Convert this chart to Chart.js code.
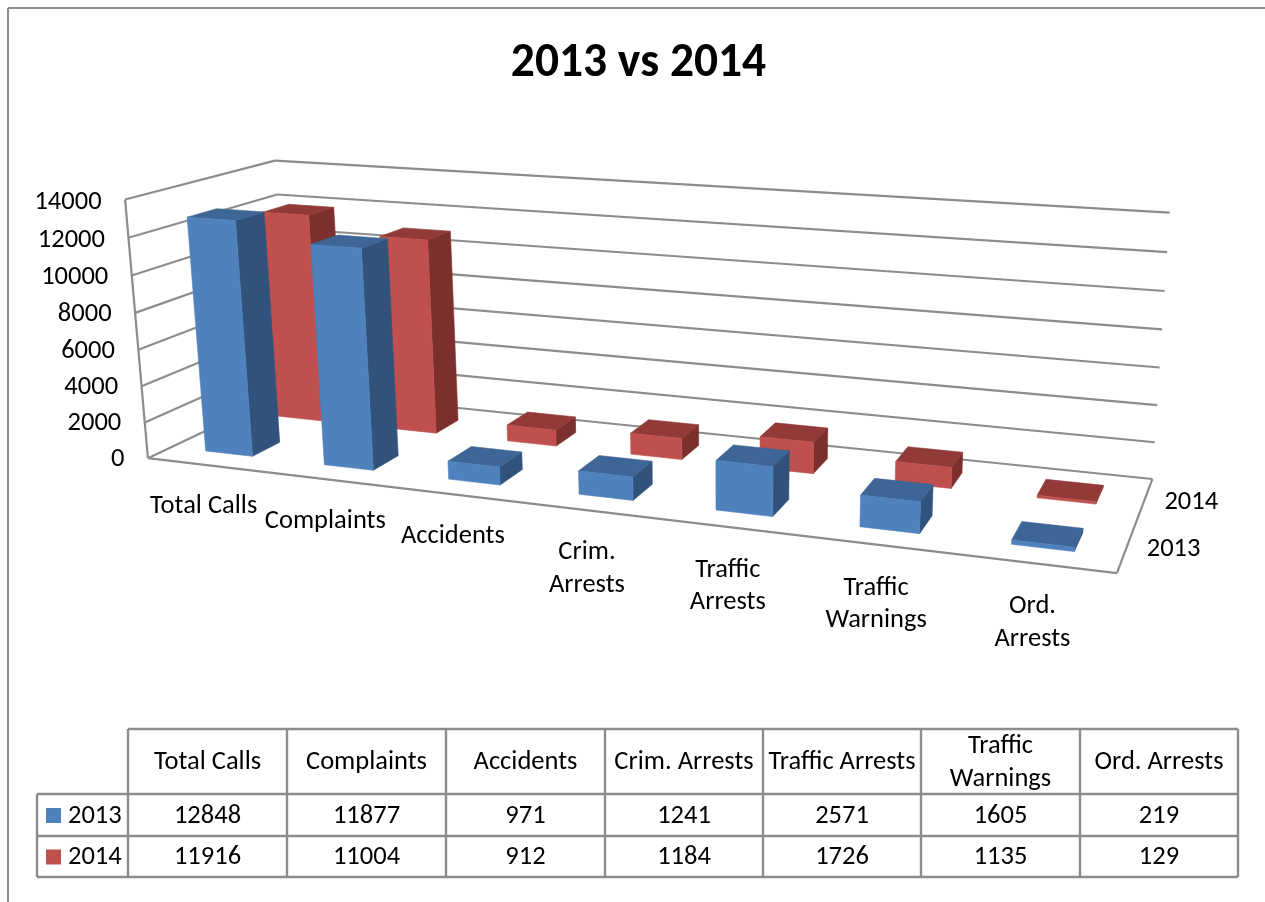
<!DOCTYPE html>
<html>
<head>
<meta charset="utf-8">
<style>html,body{margin:0;padding:0;background:#fff}canvas{display:block}</style>
<script src="https://cdn.jsdelivr.net/npm/chart.js@4/dist/chart.umd.js"></script>
</head>
<body>
<canvas id="c" width="1265" height="902"></canvas>
<script>
// ---- data ----
const titleText = '2013 vs 2014';
const categoryLabels = [['Total Calls'],['Complaints'],['Accidents'],['Crim.','Arrests'],['Traffic','Arrests'],['Traffic','Warnings'],['Ord.','Arrests']];
const tableHeaders = [['Total Calls'],['Complaints'],['Accidents'],['Crim. Arrests'],['Traffic Arrests'],['Traffic','Warnings'],['Ord. Arrests']];
const values2013 = [12848,11877,971,1241,2571,1605,219];
const values2014 = [11916,11004,912,1184,1726,1135,129];
const seriesNames = ['2013','2014'];
const faceColors = {
  '2013': {front:'#4F81BD', top:'#3D6595', side:'#31527B'},
  '2014': {front:'#C0504D', top:'#913A38', side:'#7B302E'}
};
const FONT = 'Carlito, Lato, sans-serif';
const FS = 26.5;
const LINE = '#8C8C8C';

// ---- projection of the unit box (u along categories, v along values, w into depth) ----
const anchors = [
  [0,0,0,146,457],[1,0,0,1117,574],[1,0,1,1152,478],[0,0,1,292,392],
  [0,1,0,127,200],[0,1,1,273,160],[1,1,1,1170,213]
];
function solveProjection(pts){
  const rows=[],rhs=[];
  for(const [u,v,w,x,y] of pts){
    rows.push([u,v,w,1,0,0,0,0,-x*u,-x*v,-x*w]);rhs.push(x);
    rows.push([0,0,0,0,u,v,w,1,-y*u,-y*v,-y*w]);rhs.push(y);
  }
  const n=11,M=[];
  for(let i=0;i<n;i++){
    const r=new Array(n+1).fill(0);
    for(let j=0;j<n;j++)for(let k=0;k<rows.length;k++)r[j]+=rows[k][i]*rows[k][j];
    for(let k=0;k<rows.length;k++)r[n]+=rows[k][i]*rhs[k];
    M.push(r);
  }
  for(let i=0;i<n;i++){
    let p=i;for(let r=i+1;r<n;r++)if(Math.abs(M[r][i])>Math.abs(M[p][i]))p=r;
    [M[i],M[p]]=[M[p],M[i]];
    for(let r=0;r<n;r++){if(r===i)continue;const f=M[r][i]/M[i][i];for(let c=i;c<=n;c++)M[r][c]-=f*M[i][c];}
  }
  return M.map((r,i)=>r[n]/r[i]);
}
const H = solveProjection(anchors);
function P(u,v,w){
  const d=H[8]*u+H[9]*v+H[10]*w+1;
  return [(H[0]*u+H[1]*v+H[2]*w+H[3])/d,(H[4]*u+H[5]*v+H[6]*w+H[7])/d];
}
function poly(ctx,pts,color){
  ctx.beginPath();ctx.moveTo(pts[0][0],pts[0][1]);
  for(let i=1;i<pts.length;i++)ctx.lineTo(pts[i][0],pts[i][1]);
  ctx.closePath();ctx.fillStyle=color;ctx.strokeStyle=color;ctx.lineWidth=0.6;ctx.fill();ctx.stroke();
}
function seg(ctx,a,b){ctx.beginPath();ctx.moveTo(a[0],a[1]);ctx.lineTo(b[0],b[1]);ctx.stroke();}

// ---- a bar element that draws itself as a box in the projected space ----
const depthGap = 0.15, depthSize = 0.19, barShift = -0.0005;
class Box3DElement extends Chart.BarElement {
  draw(ctx){
    const {x,y,base,width}=this.getProps(['x','y','base','width'],true);
    const a=this.$area;if(!a)return;
    const u0=(x-width/2-a.left)/a.width+barShift,u1=(x+width/2-a.left)/a.width+barShift;
    const v0=(a.bottom-base)/a.height,v1=(a.bottom-y)/a.height;
    const w0=this.$slot*0.5+depthGap,w1=w0+depthSize;
    const c=faceColors[this.$name];
    poly(ctx,[P(u1,v0,w0),P(u1,v0,w1),P(u1,v1,w1),P(u1,v1,w0)],c.side);
    poly(ctx,[P(u0,v1,w0),P(u1,v1,w0),P(u1,v1,w1),P(u0,v1,w1)],c.top);
    poly(ctx,[P(u0,v0,w0),P(u1,v0,w0),P(u1,v1,w0),P(u0,v1,w0)],c.front);
  }
}
Box3DElement.id='box3d';
class Bar3DController extends Chart.BarController {
  draw(){
    const meta=this.getMeta();
    meta.data.forEach(el=>{el.$slot=this.index;el.$name=this.getDataset().label;el.$area=this.chart.chartArea;});
    super.draw();
  }
}
Bar3DController.id='bar3d';
Bar3DController.defaults=Object.assign({},Chart.BarController.defaults,{dataElementType:'box3d'});
Chart.register(Box3DElement,Bar3DController);

// ---- place the library's tick labels along the projected edges ----
function placeXLabels(scale){
  const proto=Object.getPrototypeOf(scale);
  scale._computeLabelArea=function(){return undefined;};
  scale._computeLabelItems=function(ca){
    const items=proto._computeLabelItems.call(this,ca),a=this.chart.chartArea;
    items.forEach((it,i)=>{
      const u=(this.getPixelForTick(i)-a.left)/a.width,p=P(u,0,0);
      it.textOffset=0;
      it.options.textAlign='center';it.options.textBaseline='middle';
      it.options.translation=[p[0]-3,p[1]+41+2.5*u];
    });
    return items;
  };
}
function placeYLabels(scale){
  const proto=Object.getPrototypeOf(scale);
  scale._computeLabelArea=function(){return undefined;};
  scale._computeLabelItems=function(ca){
    const items=proto._computeLabelItems.call(this,ca),a=this.chart.chartArea;
    items.forEach((it,i)=>{
      const v=(a.bottom-this.getPixelForTick(i))/a.height,p=P(0,v,0);
      it.textOffset=0;
      it.options.textAlign='right';it.options.textBaseline='middle';
      it.options.translation=[p[0]-23.5,p[1]+1+1.5*v];
    });
    return items;
  };
}

// ---- walls and floor, from the value scale's ticks ----
const wallsPlugin={
  id:'walls',
  beforeDatasetsDraw(chart){
    const ctx=chart.ctx,y=chart.scales.y,a=chart.chartArea;
    ctx.save();ctx.strokeStyle=LINE;ctx.lineWidth=2.2;
    y.ticks.forEach(t=>{
      const v=(a.bottom-y.getPixelForValue(t.value))/a.height;
      seg(ctx,P(0,v,0),P(0,v,1));
      seg(ctx,P(0,v,1),P(1,v,1));
    });
    seg(ctx,P(0,0,0),P(0,1,0));
    seg(ctx,P(0,0,0),P(1,0,0));
    seg(ctx,P(1,0,0),P(1,0,1));
    ctx.restore();
  },
  afterDraw(chart){
    const ctx=chart.ctx;
    ctx.save();
    // chart frame
    ctx.strokeStyle=LINE;ctx.lineWidth=2;
    seg(ctx,[8,902],[8,8]);seg(ctx,[8,8],[1265,8]);
    // depth axis labels
    ctx.fillStyle='#000';ctx.font=FS+'px '+FONT;ctx.textAlign='center';ctx.textBaseline='middle';
    seriesNames.forEach((n,i)=>{
      const p=P(1,0,i*0.5+depthGap+depthSize/2);
      ctx.fillText(n,p[0]+47,p[1]+2);
    });
    // data table
    const xs=[128,287,446,605,763,921,1080,1238],ys=[729,794,836,877],left=37;
    ctx.lineWidth=2.4;ctx.strokeStyle=LINE;
    seg(ctx,[xs[0],ys[0]],[xs[7],ys[0]]);
    for(let i=1;i<ys.length;i++)seg(ctx,[left,ys[i]],[xs[7],ys[i]]);
    xs.forEach(x=>seg(ctx,[x,ys[0]],[x,ys[3]]));
    seg(ctx,[left,ys[1]],[left,ys[3]]);
    ctx.fillStyle='#000';
    tableHeaders.forEach((lines,i)=>{
      const cx=(xs[i]+xs[i+1])/2,cy=(ys[0]+ys[1])/2+1;
      lines.forEach((l,k)=>ctx.fillText(l,cx,cy+(k-(lines.length-1)/2)*33));
    });
    chart.data.datasets.forEach((ds,r)=>{
      const cy=(ys[r+1]+ys[r+2])/2+1;
      ds.data.forEach((val,i)=>ctx.fillText(String(val),(xs[i]+xs[i+1])/2,cy));
      ctx.fillStyle=ds.backgroundColor;ctx.fillRect(46,cy-8,15,15);
      ctx.fillStyle='#000';ctx.textAlign='left';ctx.fillText(ds.label,68,cy);ctx.textAlign='center';
    });
    ctx.restore();
  }
};

new Chart(document.getElementById('c'),{
  type:'bar3d',
  data:{
    labels:categoryLabels,
    datasets:[
      {label:seriesNames[0],data:values2013,backgroundColor:faceColors['2013'].front,clip:false},
      {label:seriesNames[1],data:values2014,backgroundColor:faceColors['2014'].front,clip:false}
    ]
  },
  plugins:[wallsPlugin],
  options:{
    responsive:false,animation:false,
    layout:{padding:{left:12,right:0,top:0,bottom:0}},
    datasets:{bar3d:{grouped:false,barPercentage:0.4,categoryPercentage:1}},
    plugins:{
      legend:{display:false},tooltip:{enabled:false},
      title:{display:true,text:titleText,color:'#000',font:{family:FONT,size:47.5,weight:'bold'},padding:{top:36,bottom:90}}
    },
    scales:{
      x:{type:'category',offset:true,grid:{display:false},border:{display:false},
        ticks:{autoSkip:false,maxRotation:0,minRotation:0,color:'#000',font:{family:FONT,size:FS,lineHeight:1.24}},
        afterFit(s){s.height=445;},afterUpdate:placeXLabels},
      y:{type:'linear',min:0,max:14000,grid:{display:false},border:{display:false},
        ticks:{stepSize:2000,color:'#000',font:{family:FONT,size:FS},callback:v=>String(v)},
        afterFit(s){s.width=115;},afterUpdate:placeYLabels}
    }
  }
});
</script>
</body>
</html>
